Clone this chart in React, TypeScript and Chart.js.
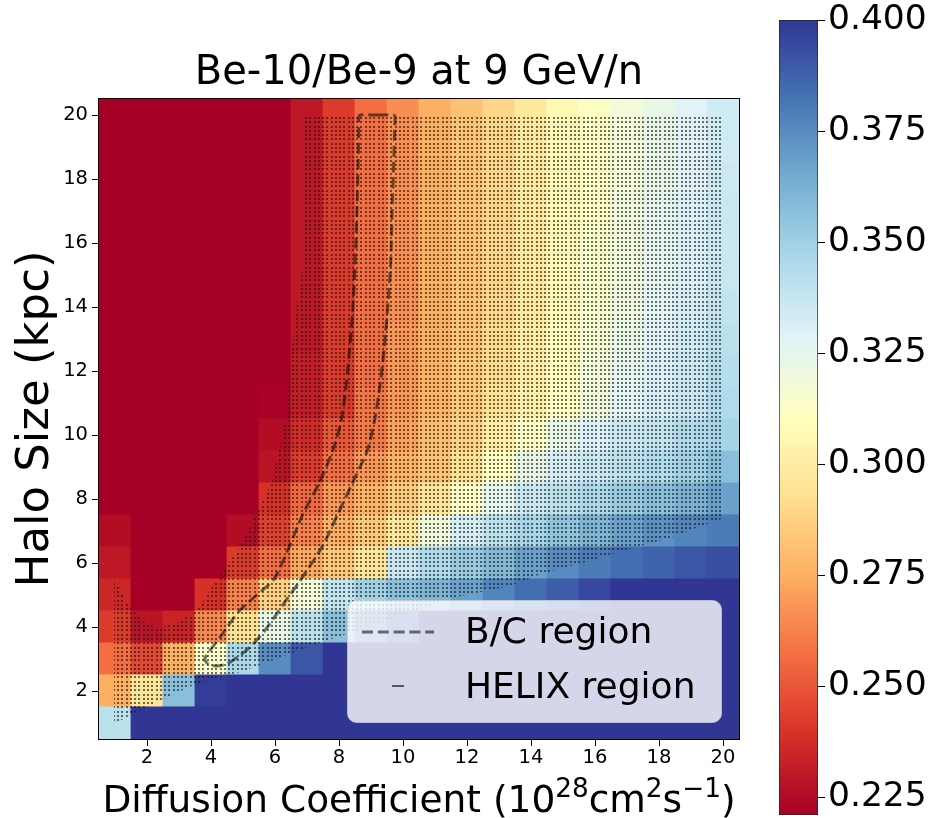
import React, { useEffect, useRef } from 'react';
import { Chart, registerables } from 'chart.js';

Chart.register(...registerables);

const FONT = "'DejaVu Sans', 'Noto Sans', sans-serif";

const TITLE = 'Be-10/Be-9 at 9 GeV/n';
// x label pieces: [text, isSuperscript]
const X_LABEL_PARTS: [string, boolean][] = [
  ['Diffusion Coefficient (10', false],
  ['28', true],
  ['cm', false],
  ['2', true],
  ['s', false],
  ['\u22121', true],
  [')', false],
];
const Y_LABEL = 'Halo Size (kpc)';
const LEGEND_LABELS = ['B/C region', 'HELIX region'];

// Diffusion coefficient (columns) and halo size (rows, top to bottom)
const DIFFUSION = [1, 2, 3, 4, 5, 6, 7, 8, 9, 10, 11, 12, 13, 14, 15, 16, 17, 18, 19, 20];
const HALO = [20, 19, 18, 17, 16, 15, 14, 13, 12, 11, 10, 9, 8, 7, 6, 5, 4, 3, 2, 1];

// Be-10/Be-9 ratio, one row per halo size (same order as HALO)
const RATIO_L20 = [0.215, 0.215, 0.215, 0.215, 0.215, 0.215, 0.230, 0.242, 0.257, 0.266, 0.275, 0.282, 0.289, 0.298, 0.307, 0.312, 0.318, 0.323, 0.328, 0.334];
const RATIO_L19 = [0.215, 0.215, 0.215, 0.215, 0.215, 0.215, 0.230, 0.242, 0.257, 0.266, 0.275, 0.282, 0.289, 0.298, 0.307, 0.312, 0.318, 0.323, 0.328, 0.334];
const RATIO_L18 = [0.215, 0.215, 0.215, 0.215, 0.215, 0.215, 0.230, 0.242, 0.257, 0.266, 0.275, 0.282, 0.289, 0.298, 0.307, 0.312, 0.318, 0.323, 0.328, 0.335];
const RATIO_L17 = [0.215, 0.215, 0.215, 0.215, 0.215, 0.215, 0.230, 0.242, 0.257, 0.266, 0.275, 0.282, 0.289, 0.298, 0.307, 0.312, 0.319, 0.325, 0.330, 0.336];
const RATIO_L16 = [0.215, 0.215, 0.215, 0.215, 0.215, 0.215, 0.230, 0.242, 0.257, 0.266, 0.275, 0.282, 0.289, 0.298, 0.307, 0.314, 0.319, 0.325, 0.330, 0.336];
const RATIO_L15 = [0.215, 0.215, 0.215, 0.215, 0.215, 0.215, 0.230, 0.242, 0.257, 0.266, 0.275, 0.282, 0.289, 0.298, 0.307, 0.314, 0.319, 0.325, 0.330, 0.337];
const RATIO_L14 = [0.215, 0.215, 0.215, 0.215, 0.215, 0.215, 0.230, 0.242, 0.257, 0.266, 0.275, 0.282, 0.289, 0.298, 0.307, 0.314, 0.321, 0.327, 0.332, 0.339];
const RATIO_L13 = [0.215, 0.215, 0.215, 0.215, 0.215, 0.215, 0.230, 0.242, 0.257, 0.268, 0.275, 0.282, 0.291, 0.300, 0.309, 0.316, 0.323, 0.328, 0.334, 0.341];
const RATIO_L12 = [0.215, 0.215, 0.215, 0.215, 0.215, 0.215, 0.232, 0.242, 0.257, 0.268, 0.276, 0.284, 0.291, 0.300, 0.309, 0.318, 0.325, 0.330, 0.336, 0.343];
const RATIO_L11 = [0.215, 0.215, 0.215, 0.215, 0.215, 0.222, 0.232, 0.242, 0.259, 0.268, 0.276, 0.284, 0.293, 0.302, 0.311, 0.319, 0.327, 0.332, 0.337, 0.345];
const RATIO_L10 = [0.215, 0.215, 0.215, 0.215, 0.215, 0.226, 0.237, 0.250, 0.260, 0.271, 0.280, 0.287, 0.300, 0.312, 0.323, 0.330, 0.336, 0.339, 0.345, 0.348];
const RATIO_L9 = [0.215, 0.215, 0.215, 0.215, 0.215, 0.228, 0.242, 0.257, 0.268, 0.276, 0.282, 0.293, 0.311, 0.323, 0.332, 0.337, 0.341, 0.345, 0.350, 0.357];
const RATIO_L8 = [0.215, 0.215, 0.215, 0.215, 0.215, 0.239, 0.255, 0.268, 0.276, 0.285, 0.296, 0.312, 0.325, 0.336, 0.341, 0.346, 0.352, 0.357, 0.362, 0.368];
const RATIO_L7 = [0.226, 0.215, 0.215, 0.215, 0.226, 0.244, 0.262, 0.275, 0.284, 0.296, 0.319, 0.332, 0.341, 0.348, 0.355, 0.361, 0.368, 0.373, 0.377, 0.380];
const RATIO_L6 = [0.230, 0.215, 0.215, 0.215, 0.242, 0.257, 0.273, 0.284, 0.296, 0.336, 0.345, 0.352, 0.359, 0.368, 0.375, 0.380, 0.384, 0.387, 0.391, 0.393];
const RATIO_L5 = [0.235, 0.215, 0.215, 0.239, 0.262, 0.287, 0.318, 0.339, 0.350, 0.357, 0.361, 0.368, 0.377, 0.384, 0.389, 0.395, 0.410, 0.410, 0.410, 0.410];
const RATIO_L4 = [0.242, 0.228, 0.234, 0.264, 0.293, 0.323, 0.341, 0.357, 0.373, 0.386, 0.410, 0.410, 0.410, 0.410, 0.410, 0.410, 0.410, 0.410, 0.410, 0.410];
const RATIO_L3 = [0.257, 0.246, 0.275, 0.314, 0.346, 0.375, 0.391, 0.410, 0.410, 0.410, 0.410, 0.410, 0.410, 0.410, 0.410, 0.410, 0.410, 0.410, 0.410, 0.410];
const RATIO_L2 = [0.275, 0.296, 0.357, 0.398, 0.410, 0.410, 0.410, 0.410, 0.410, 0.410, 0.410, 0.410, 0.410, 0.410, 0.410, 0.410, 0.410, 0.410, 0.410, 0.410];
const RATIO_L1 = [0.341, 0.410, 0.410, 0.410, 0.410, 0.410, 0.410, 0.410, 0.410, 0.410, 0.410, 0.410, 0.410, 0.410, 0.410, 0.410, 0.410, 0.410, 0.410, 0.410];

const RATIO = [
  RATIO_L20, RATIO_L19, RATIO_L18, RATIO_L17, RATIO_L16, RATIO_L15, RATIO_L14,
  RATIO_L13, RATIO_L12, RATIO_L11, RATIO_L10, RATIO_L9, RATIO_L8, RATIO_L7,
  RATIO_L6, RATIO_L5, RATIO_L4, RATIO_L3, RATIO_L2, RATIO_L1,
];

// B/C allowed region (dashed contour), closed
const BC_D = [9.2, 9.7, 9.75, 9.74, 9.71, 9.66, 9.62, 9.54, 9.44, 9.3, 9.12, 8.88, 8.42, 7.95, 7.47, 6.75, 6.25, 5.72, 5.3, 4.88, 4.5, 4.16, 3.92, 3.8, 4.3, 4.88, 5.43, 5.97, 6.44, 6.86, 7.38, 7.8, 8.08, 8.24, 8.36, 8.45, 8.51, 8.56, 8.6, 8.615, 8.62, 8.67, 9.2];
const BC_L = [20, 20, 19.95, 19.6, 18.5, 17, 15.5, 14.2, 13, 11.7, 10.5, 9.5, 8.5, 7.5, 6.5, 5.4, 4.7, 3.94, 3.45, 3.09, 2.85, 2.78, 2.84, 3.0, 3.7, 4.5, 5.0, 5.5, 6.5, 7.5, 8.5, 9.5, 10.5, 11.7, 13, 14.2, 15.5, 17, 18.5, 19.6, 19.95, 20, 20];

// HELIX sensitive region (stippled)
const HELIX_D = [6.88, 20, 20, 18.2, 16.75, 15.5, 14.3, 13.4, 11.5, 9.5, 7.0, 5.0, 3.6, 2.6, 1.53, 1.05, 0.97, 0.97, 1.4, 1.85, 2.3, 2.9, 3.55, 4.2, 4.9, 5.4, 5.9, 6.13, 6.34, 6.4, 6.5, 6.68, 6.88];
const HELIX_L = [20, 20, 7.4, 6.75, 6.35, 5.97, 5.66, 5.3, 4.9, 4.2, 3.37, 2.62, 2.25, 1.8, 1.28, 1.0, 1.0, 5.5, 4.7, 4.2, 3.95, 4.1, 4.5, 5.5, 6.5, 7.5, 8.5, 9.5, 10.5, 11, 12.5, 14, 15.3];

const X_TICKS = [2, 4, 6, 8, 10, 12, 14, 16, 18, 20];
const Y_TICKS = [2, 4, 6, 8, 10, 12, 14, 16, 18, 20];
const CBAR_TICKS = [0.225, 0.25, 0.275, 0.3, 0.325, 0.35, 0.375, 0.4];
const V_MIN = 0.221;
const V_MAX = 0.4;

const RDYLBU = ['#a50026', '#d73027', '#f46d43', '#fdae61', '#fee090', '#ffffbf', '#e0f3f8', '#abd9e9', '#74add1', '#4575b4', '#313695'];

const CMAP_RGB = RDYLBU.map((h) => [
  parseInt(h.slice(1, 3), 16),
  parseInt(h.slice(3, 5), 16),
  parseInt(h.slice(5, 7), 16),
]);

function cmap(t: number): string {
  const tt = Math.min(1, Math.max(0, t));
  const n = CMAP_RGB.length - 1;
  let i = Math.floor(tt * n);
  if (i >= n) i = n - 1;
  const f = tt * n - i;
  const a = CMAP_RGB[i];
  const b = CMAP_RGB[i + 1];
  const c = a.map((v, k) => Math.round(v + (b[k] - v) * f));
  return `rgb(${c[0]},${c[1]},${c[2]})`;
}

function colorFor(v: number): string {
  return cmap((v - V_MIN) / (V_MAX - V_MIN));
}

function cellRadius(chart: any): number {
  const xs = chart.scales && chart.scales.x;
  if (!xs) return 16;
  const w = Math.abs(xs.getPixelForValue(1) - xs.getPixelForValue(0));
  return (w / 2 + 0.4) / Math.SQRT1_2;
}

function zeroPadding(s: any) {
  s.paddingTop = 0;
  s.paddingBottom = 0;
  s.paddingLeft = 0;
  s.paddingRight = 0;
}

function roundRectPath(ctx: CanvasRenderingContext2D, x: number, y: number, w: number, h: number, r: number) {
  ctx.beginPath();
  ctx.moveTo(x + r, y);
  ctx.lineTo(x + w - r, y);
  ctx.arcTo(x + w, y, x + w, y + r, r);
  ctx.lineTo(x + w, y + h - r);
  ctx.arcTo(x + w, y + h, x + w - r, y + h, r);
  ctx.lineTo(x + r, y + h);
  ctx.arcTo(x, y + h, x, y + h - r, r);
  ctx.lineTo(x, y + r);
  ctx.arcTo(x, y, x + r, y, r);
  ctx.closePath();
}

const heatmapPlugin = {
  id: 'heatmapExtras',
  afterDatasetDraw(chart: any, args: any) {
    const ds = chart.data.datasets[args.index];
    if (!ds || ds.role !== 'helix') return;
    const pts = args.meta.data;
    if (!pts || !pts.length) return;
    const ctx = chart.ctx;
    const area = chart.chartArea;
    ctx.save();
    ctx.beginPath();
    ctx.rect(area.left, area.top, area.right - area.left, area.bottom - area.top);
    ctx.clip();
    ctx.beginPath();
    let minX = Infinity, maxX = -Infinity, minY = Infinity, maxY = -Infinity;
    pts.forEach((p: any, i: number) => {
      if (i === 0) ctx.moveTo(p.x, p.y);
      else ctx.lineTo(p.x, p.y);
      minX = Math.min(minX, p.x); maxX = Math.max(maxX, p.x);
      minY = Math.min(minY, p.y); maxY = Math.max(maxY, p.y);
    });
    ctx.closePath();
    ctx.clip();
    ctx.fillStyle = 'rgba(25,25,25,0.62)';
    const step = 4.27;
    for (let y = area.top + 1; y <= maxY + step; y += step) {
      if (y < minY - step) continue;
      for (let x = area.left + 1; x <= maxX + step; x += step) {
        if (x < minX - step) continue;
        ctx.fillRect(Math.round(x), Math.round(y), 2, 2);
      }
    }
    ctx.restore();
  },
  afterDatasetsDraw(chart: any) {
    const ctx = chart.ctx;
    const area = chart.chartArea;
    const bx = area.left + 248;
    const by = area.top + 501;
    const bw = 374;
    const bh = 122;
    ctx.save();
    roundRectPath(ctx, bx + 0.5, by + 0.5, bw, bh, 9);
    ctx.fillStyle = 'rgba(255,255,255,0.8)';
    ctx.fill();
    ctx.strokeStyle = 'rgba(204,204,204,0.8)';
    ctx.lineWidth = 1;
    ctx.stroke();
    // B/C handle
    ctx.beginPath();
    ctx.setLineDash([11, 4.8]);
    ctx.lineWidth = 3;
    ctx.strokeStyle = 'rgba(0,0,0,0.55)';
    ctx.moveTo(bx + 15, by + 32);
    ctx.lineTo(bx + 87, by + 32);
    ctx.stroke();
    // HELIX handle
    ctx.beginPath();
    ctx.setLineDash([]);
    ctx.lineWidth = 2;
    ctx.strokeStyle = 'rgba(0,0,0,0.6)';
    ctx.moveTo(bx + 45, by + 86);
    ctx.lineTo(bx + 57, by + 86);
    ctx.stroke();
    ctx.fillStyle = '#000';
    ctx.font = `36px ${FONT}`;
    ctx.textBaseline = 'alphabetic';
    ctx.textAlign = 'left';
    ctx.fillText(LEGEND_LABELS[0], bx + 118, by + 43);
    ctx.fillText(LEGEND_LABELS[1], bx + 118, by + 98);
    ctx.restore();
  },
  afterDraw(chart: any) {
    const ctx = chart.ctx;
    const a = chart.chartArea;
    ctx.save();
    ctx.strokeStyle = '#000';
    ctx.lineWidth = 1;
    ctx.strokeRect(a.left - 0.5, a.top - 0.5, a.right - a.left + 1, a.bottom - a.top + 1);

    // x-axis label with superscripts
    const mainSize = 37.5;
    const supSize = 26.3;
    const mainFont = `${mainSize}px ${FONT}`;
    const supFont = `${supSize}px ${FONT}`;
    let total = 0;
    const widths = X_LABEL_PARTS.map(([t, sup]) => {
      ctx.font = sup ? supFont : mainFont;
      const w = ctx.measureText(t).width;
      total += w;
      return w;
    });
    let x = (a.left + a.right) / 2 - total / 2;
    const baseline = chart.height - 6;
    ctx.fillStyle = '#000';
    ctx.textAlign = 'left';
    ctx.textBaseline = 'alphabetic';
    X_LABEL_PARTS.forEach(([t, sup], i) => {
      ctx.font = sup ? supFont : mainFont;
      ctx.fillText(t, x, sup ? baseline - 15 : baseline);
      x += widths[i];
    });
    ctx.restore();
  },
};

export default function App() {
  const mainRef = useRef<HTMLCanvasElement | null>(null);
  const cbarRef = useRef<HTMLCanvasElement | null>(null);

  useEffect(() => {
    if (!mainRef.current || !cbarRef.current) return;
    Chart.defaults.font.family = FONT;

    const cells: any[] = [];
    HALO.forEach((L, r) => {
      DIFFUSION.forEach((D, c) => {
        cells.push({ x: D, y: L, v: RATIO[r][c] });
      });
    });
    const bcPoints = BC_D.map((d, i) => ({ x: d, y: BC_L[i] }));
    const helixPoints = HELIX_D.map((d, i) => ({ x: d, y: HELIX_L[i] }));

    const tickFont = { family: FONT, size: 19.5, lineHeight: 1 };

    const main = new Chart(mainRef.current, {
      type: 'scatter',
      data: {
        datasets: [
          {
            label: 'B/C region',
            data: bcPoints,
            showLine: true,
            borderColor: 'rgba(0,0,0,0.55)',
            borderWidth: 3,
            borderDash: [11, 4.8],
            pointRadius: 0,
            tension: 0.25,
            fill: false,
            order: 0,
          } as any,
          {
            label: 'HELIX region',
            role: 'helix',
            data: helixPoints,
            showLine: false,
            pointRadius: 0,
            order: 1,
          } as any,
          {
            label: 'ratio',
            data: cells,
            pointStyle: 'rect',
            pointRadius: (ctx: any) => cellRadius(ctx.chart),
            pointHoverRadius: (ctx: any) => cellRadius(ctx.chart),
            backgroundColor: (ctx: any) => (ctx.raw ? colorFor(ctx.raw.v) : RDYLBU[0]),
            borderWidth: 0,
            order: 2,
          } as any,
        ],
      },
      options: {
        responsive: false,
        animation: false,
        events: [],
        layout: { padding: { left: 0, right: 21, top: 0, bottom: 0 } },
        plugins: {
          legend: { display: false },
          tooltip: { enabled: false },
          title: {
            display: true,
            text: TITLE,
            fullSize: false,
            color: '#000',
            font: { family: FONT, size: 40, weight: 'normal', lineHeight: 1 },
            padding: { top: 54, bottom: 5 },
          },
        },
        scales: {
          x: {
            type: 'linear',
            min: 0.5,
            max: 20.5,
            afterBuildTicks: (s: any) => { s.ticks = X_TICKS.map((v) => ({ value: v })); },
            afterFit: (s: any) => { s.height = 79; zeroPadding(s); },
            grid: { drawOnChartArea: false, drawTicks: true, tickLength: 7, color: '#000', lineWidth: 1 },
            border: { display: false },
            ticks: { color: '#000', font: tickFont, padding: 2, maxRotation: 0, autoSkip: false },
            title: { display: false },
          },
          y: {
            type: 'linear',
            min: 0.5,
            max: 20.5,
            afterBuildTicks: (s: any) => { s.ticks = Y_TICKS.map((v) => ({ value: v })); },
            afterFit: (s: any) => { s.width = 99; zeroPadding(s); },
            grid: { drawOnChartArea: false, drawTicks: true, tickLength: 7, color: '#000', lineWidth: 1 },
            border: { display: false },
            ticks: { color: '#000', font: tickFont, padding: 4, autoSkip: false },
            title: { display: true, text: Y_LABEL, color: '#000', font: { family: FONT, size: 45, lineHeight: 1 }, padding: { top: 14, bottom: 0 } },
          },
        },
      } as any,
      plugins: [heatmapPlugin],
    });

    const cbar = new Chart(cbarRef.current, {
      type: 'bar',
      data: {
        labels: [''],
        datasets: [
          {
            data: [[V_MIN, V_MAX]],
            backgroundColor: (ctx: any) => {
              const chart = ctx.chart;
              const ys = chart.scales && chart.scales.y;
              if (!chart.chartArea || !ys) return RDYLBU[0];
              const g = chart.ctx.createLinearGradient(0, ys.getPixelForValue(V_MIN), 0, ys.getPixelForValue(V_MAX));
              RDYLBU.forEach((c, i) => g.addColorStop(i / (RDYLBU.length - 1), c));
              return g;
            },
            borderColor: '#222',
            borderWidth: 1,
            borderSkipped: false,
            barPercentage: 1,
            categoryPercentage: 1,
          } as any,
        ],
      },
      options: {
        responsive: false,
        animation: false,
        events: [],
        layout: { padding: { left: 19, right: 0, top: 20, bottom: 3 } },
        plugins: { legend: { display: false }, tooltip: { enabled: false }, title: { display: false } },
        scales: {
          x: { display: false },
          y: {
            position: 'right',
            min: V_MIN,
            max: V_MAX,
            afterBuildTicks: (s: any) => { s.ticks = CBAR_TICKS.map((v) => ({ value: v })); },
            afterFit: (s: any) => { s.width = 118; zeroPadding(s); },
            grid: { drawOnChartArea: false, drawTicks: true, tickLength: 7, color: '#000', lineWidth: 1 },
            border: { display: false },
            ticks: {
              color: '#000',
              font: { family: FONT, size: 34.5, lineHeight: 1 },
              padding: 3,
              autoSkip: false,
              callback: (v: any) => Number(v).toFixed(3),
            },
          },
        },
      } as any,
    });

    return () => {
      main.destroy();
      cbar.destroy();
    };
  }, []);

  return (
    <div style={{ position: 'fixed', left: 0, top: 0, width: 936, height: 818, background: '#fff', overflow: 'hidden' }}>
      <canvas ref={mainRef} width={760} height={818} style={{ position: 'absolute', left: 0, top: 0, width: 760, height: 818 }} />
      <canvas ref={cbarRef} width={176} height={818} style={{ position: 'absolute', left: 760, top: 0, width: 176, height: 818 }} />
    </div>
  );
}
